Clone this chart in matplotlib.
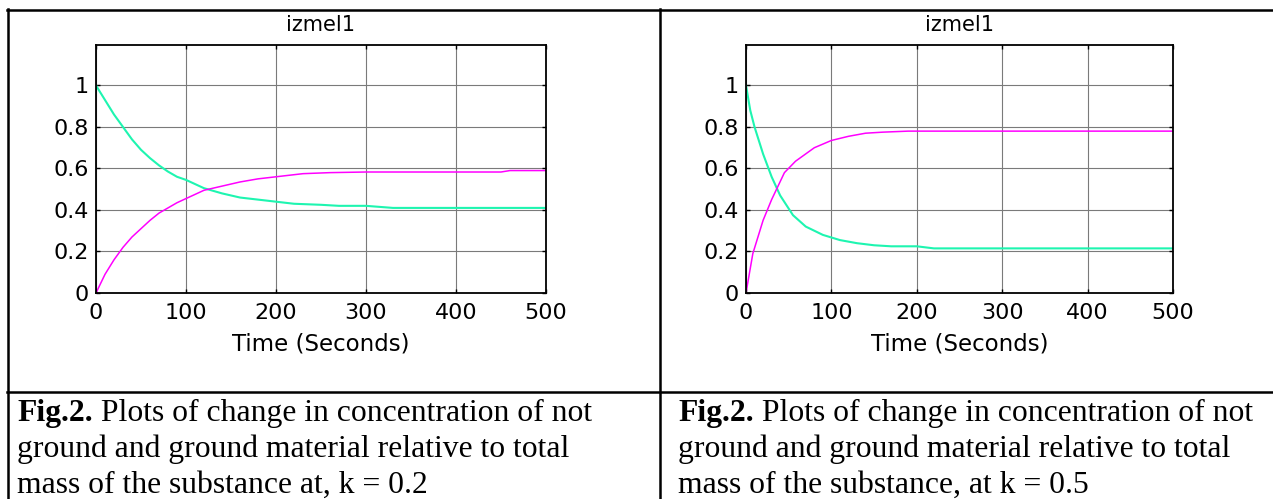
import matplotlib.pyplot as plt
from matplotlib.lines import Line2D

# k = 0.2 (left panel)
t_cyan_a = [0, 10, 20, 30, 40, 50, 60, 70, 80, 90, 100, 120, 140, 160, 180, 200, 220, 250, 270, 300, 330, 400, 500]
v_cyan_a = [1.0, 0.93, 0.86, 0.80, 0.74, 0.69, 0.65, 0.615, 0.585, 0.56, 0.545, 0.505, 0.48, 0.46, 0.45, 0.44,
            0.43, 0.425, 0.42, 0.42, 0.41, 0.41, 0.41]
t_mag_a = [0, 10, 20, 30, 40, 50, 60, 70, 80, 90, 100, 120, 140, 160, 180, 200, 230, 260, 300, 450, 460, 500]
v_mag_a = [0.0, 0.09, 0.16, 0.22, 0.27, 0.31, 0.35, 0.385, 0.41, 0.435, 0.455, 0.495, 0.515, 0.535, 0.55, 0.56,
           0.575, 0.58, 0.583, 0.583, 0.59, 0.59]

# k = 0.5 (right panel)
t_cyan_b = [0, 5, 10, 20, 30, 40, 55, 70, 90, 110, 130, 150, 170, 200, 220, 500]
v_cyan_b = [1.0, 0.88, 0.80, 0.67, 0.56, 0.47, 0.375, 0.32, 0.28, 0.255, 0.24, 0.23, 0.225, 0.225, 0.215, 0.215]
t_mag_b = [0, 8, 20, 30, 45, 58, 80, 100, 120, 140, 160, 190, 500]
v_mag_b = [0.0, 0.19, 0.35, 0.45, 0.58, 0.635, 0.70, 0.735, 0.755, 0.77, 0.775, 0.78, 0.78]

x_ticks = [0, 100, 200, 300, 400, 500]
y_ticks = [0, 0.2, 0.4, 0.6, 0.8, 1.0]
y_labels = ["0", "0.2", "0.4", "0.6", "0.8", "1"]

captions = [
    ["Plots of change in concentration of not",
     "ground and ground material relative to total",
     "mass of the substance at, k = 0.2"],
    ["Plots of change in concentration of not",
     "ground and ground material relative to total",
     "mass of the substance, at k = 0.5"],
]

W, H = 1273, 499
fig = plt.figure(figsize=(W / 100, H / 100), dpi=100)
fig.patch.set_facecolor("white")


def px(x, y):
    return x / W, 1 - y / H


def panel(left, right, tc, vc, tm, vm):
    x0, y0 = px(left, 293)
    x1, y1 = px(right, 45)
    ax = fig.add_axes([x0, y0, x1 - x0, y1 - y0])
    ax.plot(tc, vc, color="#1ef5b0", lw=1.5)
    ax.plot(tm, vm, color="#ff00ff", lw=1.1)
    ax.set_xlim(0, 500)
    ax.set_ylim(0, 1.195)
    ax.set_xticks(x_ticks)
    ax.set_yticks(y_ticks)
    ax.set_yticklabels(y_labels)
    ax.grid(True, color="#7a7a7a", lw=0.8)
    ax.tick_params(direction="in", length=3, width=1, top=True, right=True,
                   labelsize=16, pad=5, colors="black")
    ax.tick_params(axis="x", pad=7)
    for lab in ax.get_xticklabels() + ax.get_yticklabels():
        lab.set_family("DejaVu Sans")
    for s in ax.spines.values():
        s.set_linewidth(1.3)
    ax.set_xlabel("Time (Seconds)", fontsize=16.5, family="DejaVu Sans", labelpad=7)
    ax.set_title("izmel1", fontsize=15, family="DejaVu Sans", pad=10)
    return ax


panel(96, 546, t_cyan_a, v_cyan_a, t_mag_a, v_mag_a)
panel(746, 1173, t_cyan_b, v_cyan_b, t_mag_b, v_mag_b)

# table borders
def hline(y, xa, xb):
    (a, yy), (b, _) = px(xa, y), px(xb, y)
    fig.add_artist(Line2D([a, b], [yy, yy], color="black", lw=1.8, transform=fig.transFigure))


def vline(x, ya, yb):
    (xx, a), (_, b) = px(x, ya), px(x, yb)
    fig.add_artist(Line2D([xx, xx], [a, b], color="black", lw=1.8, transform=fig.transFigure))


hline(10, 7, W)
hline(392, 7, W)
vline(8, 9, H)
vline(660, 9, H)

# captions
fig.canvas.draw()
for xs, lines in zip([17, 678], captions):
    for i, line in enumerate(lines):
        fx, fy = px(xs, 421 + 36 * i)
        if i == 0:
            b = fig.text(fx, fy, "Fig.2.", fontsize=22.8, family="Liberation Serif",
                         fontweight="bold", va="baseline")
            fig.canvas.draw()
            bb = b.get_window_extent()
            fig.text(bb.x1 / W, fy, " " + line, fontsize=22.8, family="Liberation Serif", va="baseline")
        else:
            fig.text(fx, fy, line, fontsize=22.8, family="Liberation Serif", va="baseline")

fig.savefig("out.png", dpi=100)
plt.close()
